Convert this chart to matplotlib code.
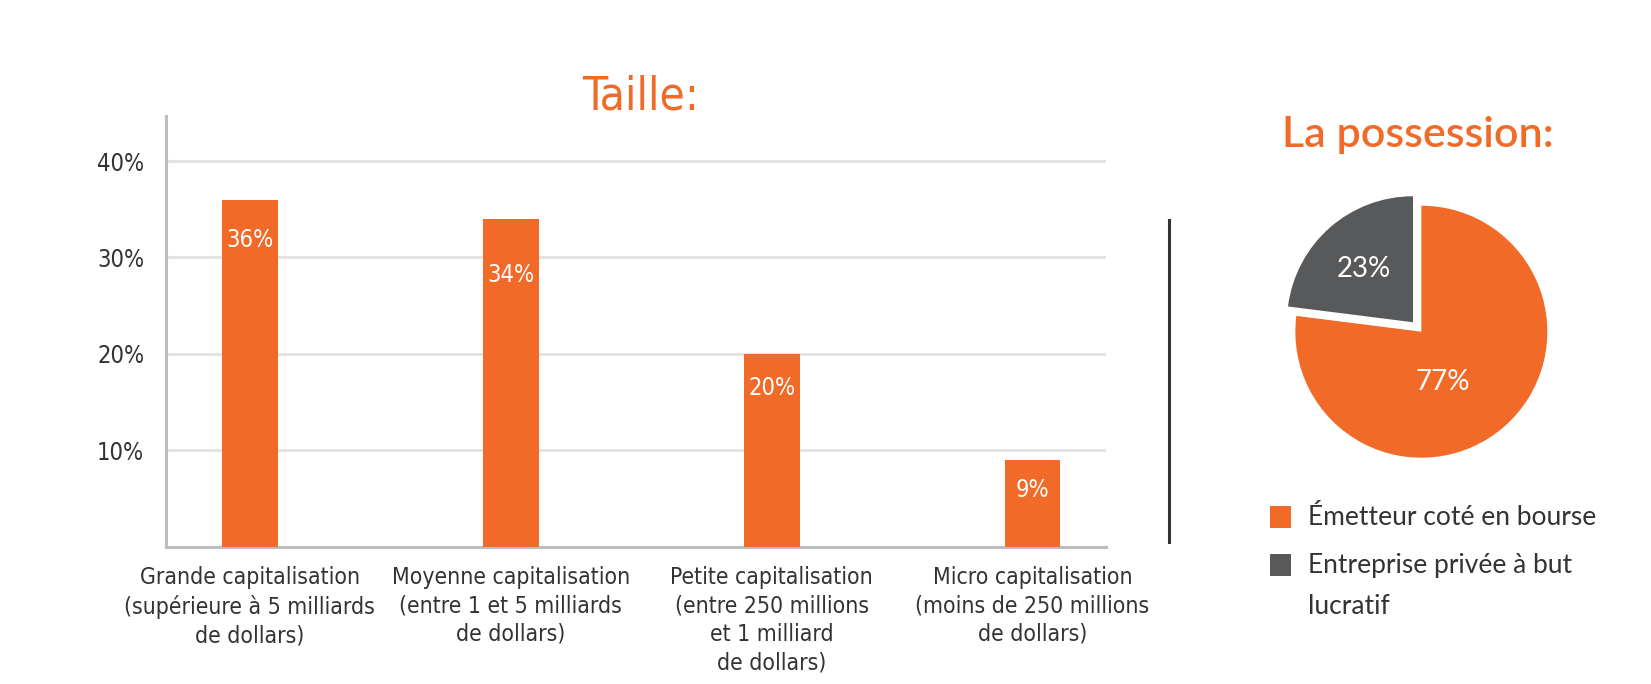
import matplotlib
matplotlib.use("Agg")
import matplotlib.pyplot as plt
from matplotlib.patches import Rectangle
from matplotlib.lines import Line2D

# ---- data ----
categories = [
    "Grande capitalisation\n(supérieure à 5 milliards\nde dollars)",
    "Moyenne capitalisation\n(entre 1 et 5 milliards\nde dollars)",
    "Petite capitalisation\n(entre 250 millions\net 1 milliard\nde dollars)",
    "Micro capitalisation\n(moins de 250 millions\nde dollars)",
]
bar_values = [36, 34, 20, 9]
bar_labels = ["36%", "34%", "20%", "9%"]
y_ticks = [10, 20, 30, 40]
y_tick_labels = ["10%", "20%", "30%", "40%"]

pie_labels = ["Émetteur coté en bourse", "Entreprise privée à but\nlucratif"]
pie_values = [77, 23]
pie_value_labels = ["77%", "23%"]

bar_title = "Taille:"
pie_title = "La possession:"

# ---- style ----
ORANGE = "#F26A27"
GRAY = "#58595B"
TEXT = "#333333"
GRID = "#E3E3E3"
SPINE = "#BDBDBD"
label_drop = [4.2, 5.8, 3.6, 3.1]            # bar label offset below bar top
pie_label_pos = [(0.17, -0.40), (-0.46, 0.50)]  # pie label positions (pie units)

FONT_BAR = dict(family="DejaVu Sans", stretch="condensed")
FONT_PIE = dict(family="Lato")

fig = plt.figure(figsize=(16.51, 6.84), dpi=100)
fig.patch.set_facecolor("white")

# ---- bar chart ----
ax = fig.add_axes([0.1008, 0.201, 0.5688, 0.6297])
x = list(range(len(bar_values)))
ax.bar(x, bar_values, width=0.214, color=ORANGE, zorder=3)
ax.set_xlim(-0.32, 3.28)
ax.set_ylim(0, 44.7)
ax.set_yticks(y_ticks)
ax.set_yticklabels(y_tick_labels, color=TEXT, fontsize=17, **FONT_BAR)
ax.set_xticks(x)
ax.set_xticklabels(categories, color=TEXT, fontsize=16.5, linespacing=1.3,
                   **FONT_BAR)
ax.tick_params(axis="both", length=0)
ax.tick_params(axis="y", pad=16)
ax.tick_params(axis="x", pad=14)
ax.grid(axis="y", color=GRID, linewidth=2.2, zorder=0)
for s in ["top", "right"]:
    ax.spines[s].set_visible(False)
for s in ["left", "bottom"]:
    ax.spines[s].set_color(SPINE)
    ax.spines[s].set_linewidth(2.2)
ax.set_facecolor("none")
for xi, v, lab, d in zip(x, bar_values, bar_labels, label_drop):
    ax.text(xi, v - d, lab, ha="center", va="center", color="white",
            fontsize=17, zorder=4, **FONT_BAR)
fig.text(0.3877, 0.858, bar_title, ha="center", va="center", color=ORANGE,
         fontsize=33, fontweight="normal", **FONT_BAR)

# ---- divider ----
fig.add_artist(Line2D([0.7079, 0.7079], [0.2076, 0.678], color="#333333",
                      linewidth=2.2, transform=fig.transFigure))

# ---- pie chart ----
pax = fig.add_axes([0.7655, 0.2848, 0.1908, 0.4605])
wedges, texts = pax.pie(
    pie_values, colors=[ORANGE, GRAY], startangle=90, counterclock=False,
    explode=[0, 0.1], wedgeprops=dict(linewidth=0))
for lab, (px, py) in zip(pie_value_labels, pie_label_pos):
    pax.text(px, py, lab, ha="center", va="center", color="white",
             fontsize=20, fontweight="normal", **FONT_PIE)
pax.set_xlim(-1.25, 1.25)
pax.set_ylim(-1.25, 1.25)
pax.set_aspect("equal")
fig.text(0.859, 0.803, pie_title, ha="center", va="center", color=ORANGE,
         fontsize=31, fontweight="semibold", **FONT_PIE)

# ---- legend (manual) ----
sq_w, sq_h = 21 / 1651, 22 / 684
for sy, col in zip([0.244, 0.1734], [ORANGE, GRAY]):
    fig.add_artist(Rectangle((0.7693, sy - sq_h / 2), sq_w, sq_h,
                             facecolor=col, edgecolor="none",
                             transform=fig.transFigure))
fig.text(0.7922, 0.244, pie_labels[0], ha="left", va="center", color=TEXT,
         fontsize=19, **FONT_PIE)
fig.text(0.7922, 0.192, pie_labels[1], ha="left", va="top", color=TEXT,
         fontsize=19, linespacing=1.8, **FONT_PIE)

fig.savefig("out.png", dpi=100, facecolor="white")
